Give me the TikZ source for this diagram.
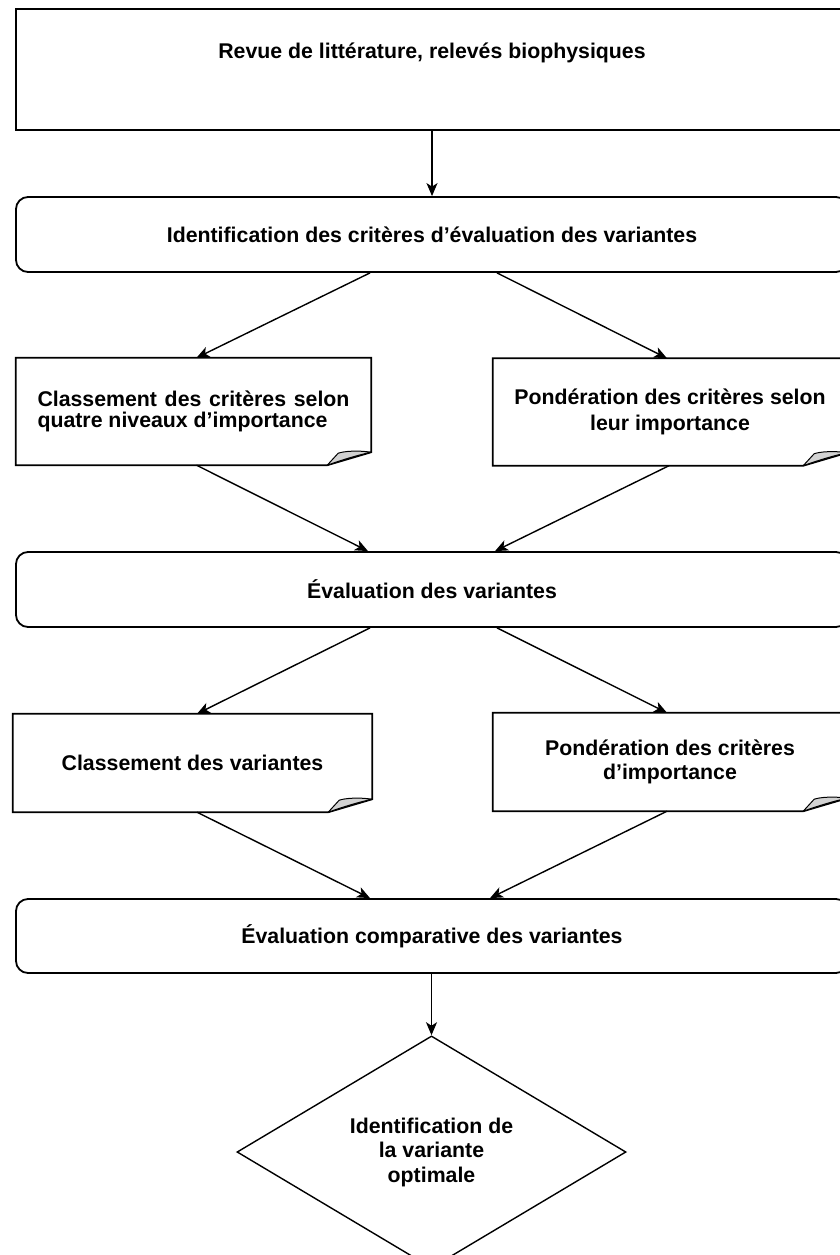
\documentclass[tikz,border=0pt]{standalone}
\usepackage{fontspec}
\setmainfont{Liberation Sans}
\usetikzlibrary{shapes.geometric,arrows.meta,calc}
\hyphenpenalty=10000
\exhyphenpenalty=10000
\newcommand\drawnote[1]{%
  \draw[boxline] (#1.north west) -- (#1.north east) -- ([yshift=13pt]#1.south east)
     -- ([xshift=-44pt]#1.south east) -- (#1.south west) -- cycle;
  \filldraw[fold] ([yshift=13pt]#1.south east)
     .. controls ([xshift=-14pt,yshift=15pt]#1.south east) and ([xshift=-27pt,yshift=14pt]#1.south east) ..
     ([xshift=-33pt,yshift=12pt]#1.south east) -- ([xshift=-44pt]#1.south east)
     .. controls ([xshift=-30pt,yshift=5pt]#1.south east) and ([xshift=-14pt,yshift=10pt]#1.south east) .. cycle;}
\begin{document}
\begin{tikzpicture}[x=1pt,y=-1pt,
  txt/.style={font=\bfseries\fontsize{21.3}{24.5}\selectfont},
  boxline/.style={line width=1.8pt, line join=miter},
  fold/.style={fill=gray!35, draw=black, line width=1pt, line join=round},
  arr/.style={line width=1.4pt, -{Stealth[length=13pt,width=11pt,inset=3.5pt]}},
  bigbox/.style={txt, draw, line width=1.8pt, minimum width=832pt, inner sep=0pt},
  rbox/.style={bigbox, rounded corners=12pt},
  notebox/.style={txt, inner sep=0pt, align=center}]
\useasboundingbox (0,0) rectangle (840,1255);
\clip (0,0) rectangle (840,1255);

\node[bigbox, minimum height=121pt, text height=50pt, text depth=71pt] (b1) at (432,69.5)
  {Revue de littérature, relevés biophysiques};
\node[rbox, minimum height=75pt] (b2) at (432,234.5)
  {Identification des critères d’évaluation des variantes};
\node[notebox, minimum width=355pt, minimum height=107pt, text width=312pt, align=justify,
  font=\bfseries\fontsize{21.3}{21}\selectfont] (c1) at (193.5,411.5)
  {Classement des critères selon quatre niveaux d’importance};
\node[notebox, minimum width=354pt, minimum height=107pt,
  font=\bfseries\fontsize{21.3}{25.5}\selectfont] (c2) at (670,412)
  {Pondération des critères selon\\leur importance};
\node[rbox, minimum height=75pt] (b3) at (432,589.5) {Évaluation des variantes};
\node[notebox, minimum width=359pt, minimum height=98pt] (d1) at (192.5,763)
  {Classement des variantes};
\node[notebox, minimum width=354pt, minimum height=98pt] (d2) at (670,762)
  {Pondération des critères\\d’importance};
\node[rbox, minimum height=74pt] (b4) at (432,936) {Évaluation comparative des variantes};
\node[txt, diamond, draw, line width=1.4pt, minimum width=389pt, minimum height=218pt,
  inner sep=0pt, align=center] (dm) at (431.5,1152)
  {Identification de\\la variante\\optimale};

\drawnote{c1}
\drawnote{c2}
\drawnote{d1}
\drawnote{d2}

\draw[arr] (b1.south) -- (b2.north);
\draw[arr] ([xshift=-62pt]b2.south) -- ([xshift=3pt]c1.north);
\draw[arr] ([xshift=65pt]b2.south) -- ([xshift=-3pt]c2.north);
\draw[arr] ([xshift=3pt]c1.south) -- ([xshift=-64pt]b3.north);
\draw[arr] ([xshift=-1pt]c2.south) -- ([xshift=63pt]b3.north);
\draw[arr] ([xshift=-62pt]b3.south) -- ([xshift=4.5pt]d1.north);
\draw[arr] ([xshift=65pt]b3.south) -- ([xshift=-3pt]d2.north);
\draw[arr] ([xshift=4.5pt]d1.south) -- ([xshift=-62pt]b4.north);
\draw[arr] ([xshift=-3pt]d2.south) -- ([xshift=58pt]b4.north);
\draw[arr] ([xshift=-0.5pt]b4.south) -- (dm.north);
\end{tikzpicture}
\end{document}
